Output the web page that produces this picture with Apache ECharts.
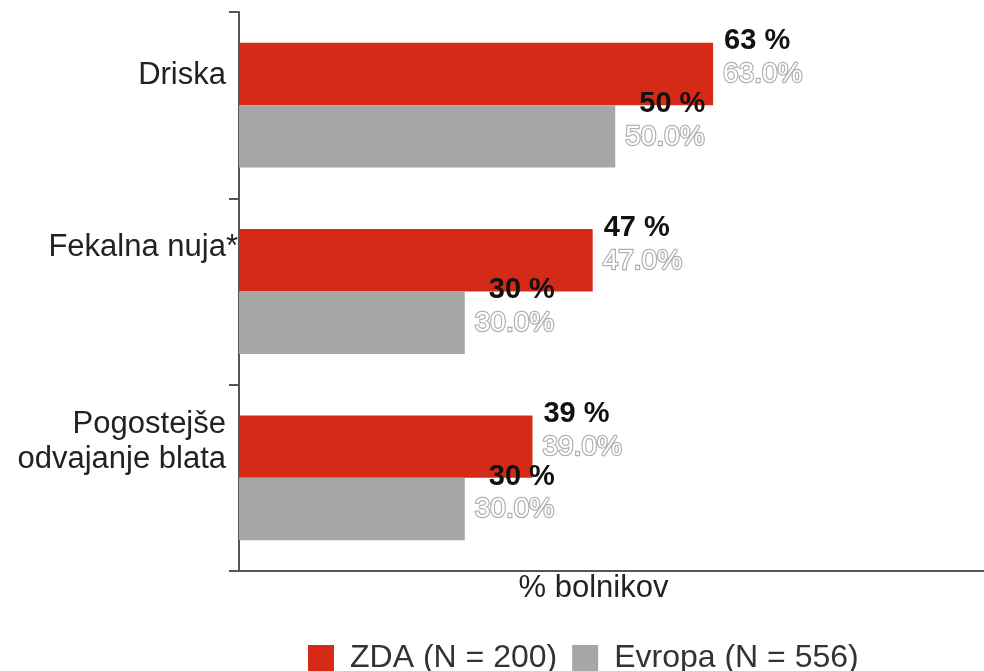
<!DOCTYPE html>
<html>
<head>
<meta charset="utf-8">
<script src="https://cdn.jsdelivr.net/npm/echarts@6/dist/echarts.min.js"></script>
<style>
  html, body { margin: 0; padding: 0; background: #fff; }
  #chart { width: 984px; height: 671px; }
</style>
</head>
<body>
<div id="chart"></div>
<script>
// podatki
const categories = ['Driska', 'Fekalna nuja*', 'Pogostejše\nodvajanje blata'];
const zdaValues = [63, 47, 39];
const evropaValues = [50, 30, 30];
const seriesNames = ['ZDA (N = 200)', 'Evropa (N = 556)'];
const axisName = '% bolnikov';

const FONT = "'Liberation Sans', Arial, sans-serif";

// desni odmik oznak kategorij (kot v originalu)
const labelPadRight = [12, 0, 12];

function valueLabel(pad) {
  return {
    show: true,
    position: 'right',
    distance: 10,
    offset: [0, -16],
    formatter: p => '{a|' + p.value + ' %}\n{b|' + p.value.toFixed(1) + '%}',
    rich: {
      a: { fontFamily: FONT, fontWeight: 'bold', fontSize: 29, color: '#111', lineHeight: 33, padding: [0, 0, 0, pad] },
      b: { fontFamily: FONT, fontSize: 28, color: '#fff', textBorderColor: '#b0b0b0', textBorderWidth: 2.4, lineHeight: 33 }
    }
  };
}

var myChart = echarts.init(document.getElementById('chart'));
myChart.setOption({
  animation: false,
  textStyle: { fontFamily: FONT },
  legend: {
    data: seriesNames,
    left: 308,
    top: 642,
    padding: 0,
    icon: 'rect',
    itemWidth: 26,
    itemHeight: 26,
    itemGap: 15,
    textStyle: { fontFamily: FONT, fontSize: 32, color: '#333', padding: [0, 0, 0, 11] }
  },
  grid: { left: 239, right: 0, top: 12, bottom: 100, containLabel: false },
  xAxis: {
    type: 'value',
    min: 0,
    max: 99,
    name: axisName,
    nameLocation: 'middle',
    nameGap: 2,
    nameTextStyle: { fontFamily: FONT, fontSize: 31, color: '#222', padding: [0, 36, 0, 0] },
    axisLine: { show: true, lineStyle: { color: '#555', width: 2 } },
    axisTick: { show: false },
    axisLabel: { show: false },
    splitLine: { show: false }
  },
  yAxis: {
    type: 'category',
    inverse: true,
    data: categories.map((c, i) => ({ value: c, textStyle: { padding: [0, labelPadRight[i], 0, 0] } })),
    axisLine: { lineStyle: { color: '#555', width: 2 } },
    axisTick: { show: true, length: 10, lineStyle: { color: '#555', width: 2 } },
    axisLabel: {
      margin: 1,
      align: 'right',
      // prazna vrstica pod besedilom dvigne oznako proti rdečemu stolpcu
      formatter: (value, index) => value.split('\n').map(l => '{t|' + l + '}').join('\n') + '\n{s' + index + '|\u00a0}',
      rich: {
        t: { fontFamily: FONT, fontSize: 31, lineHeight: 35, color: '#222' },
        s0: { fontSize: 10, lineHeight: 60 },
        s1: { fontSize: 10, lineHeight: 88 },
        s2: { fontSize: 10, lineHeight: 72 }
      }
    }
  },
  series: [
    {
      name: seriesNames[0],
      type: 'bar',
      data: zdaValues,
      barGap: 0,
      barCategoryGap: '33%',
      itemStyle: { color: '#D62A18' },
      label: valueLabel(1)
    },
    {
      name: seriesNames[1],
      type: 'bar',
      data: evropaValues,
      itemStyle: { color: '#A6A6A6' },
      label: valueLabel(14)
    }
  ]
});
</script>
</body>
</html>
